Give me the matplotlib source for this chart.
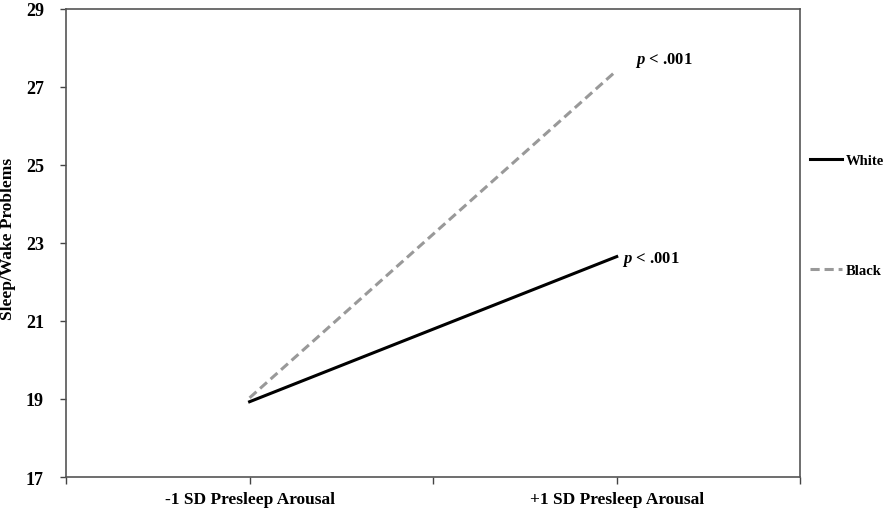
import matplotlib.pyplot as plt

groups = ['White', 'Black']
conditions = ['-1 SD Presleep Arousal', '+1 SD Presleep Arousal']
white = [18.93, 22.65]
black = [19.03, 27.42]
p_label = r'$p$ < .001'

plt.rcParams['font.family'] = ['Liberation Serif', 'DejaVu Serif']
plt.rcParams['font.weight'] = 'bold'
plt.rcParams['mathtext.fontset'] = 'custom'
plt.rcParams['mathtext.it'] = 'Liberation Serif:italic:bold'
plt.rcParams['mathtext.rm'] = 'Liberation Serif:bold'

fig = plt.figure(figsize=(8.9, 5.1), dpi=100)
ax = fig.add_axes([0.0742, 0.0627, 0.825, 0.918])

xpos = [0.5, 1.5]
ax.plot(xpos, white, color='black', lw=2.2, label=groups[0])
ax.plot(xpos, black, color='#999999', lw=2.2, ls=(0, (3, 1.6)), label=groups[1])

# significance labels at the +1 SD end of each line
ax.text(xpos[1] + 0.05, black[1] + 0.27, p_label, fontsize=12, va='center')
ax.text(xpos[1] + 0.015, white[1] - 0.05, p_label, fontsize=12, va='center')

ax.set_xlim(0, 2)
ax.set_ylim(17, 29)
ax.set_yticks(range(17, 30, 2))
ax.set_xticks([0, 0.5, 1, 1.5, 2])
ax.set_xticklabels(['', conditions[0], '', conditions[1], ''])
ax.tick_params(axis='x', length=5, width=1, color='#444444', pad=5, labelsize=12.5)
ax.tick_params(axis='y', length=4, width=1, color='#444444', pad=12, labelsize=13)
for s in ax.spines.values():
    s.set_color('#555555')
    s.set_linewidth(1.2)

ax.set_ylabel('Sleep/Wake Problems', fontsize=12.5, weight='bold')
ax.yaxis.set_label_coords(-0.068, 0.51)

ax.legend(loc='upper left', bbox_to_anchor=(1.0, 0.71), frameon=False,
          handlelength=2.2, handletextpad=0.25, labelspacing=6.6, fontsize=10.5,
          borderaxespad=0.25)

fig.savefig('out.png')
